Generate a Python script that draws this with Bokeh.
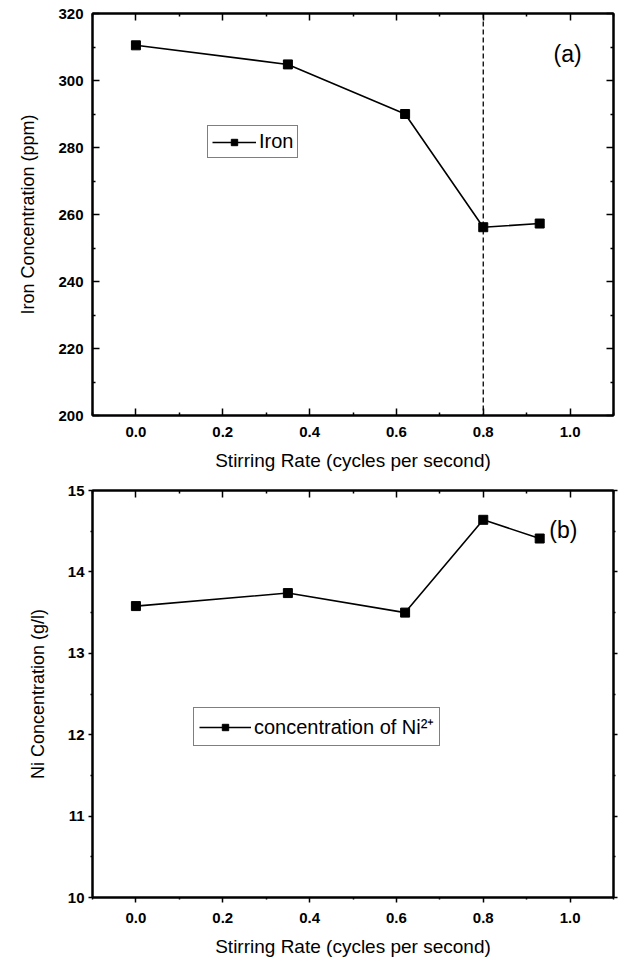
from bokeh.plotting import figure
from bokeh.layouts import column
from bokeh.models import (Range1d, LinearAxis, FixedTicker, Span, Label,
                          Legend, LegendItem, ColumnDataSource, CustomLabelingPolicy)
from bokeh.embed import file_html
from bokeh.resources import INLINE

# ---- data ----
stir_rate_a = [0.0, 0.35, 0.62, 0.80, 0.93]
iron_ppm = [310.5, 304.8, 290.0, 256.2, 257.3]

stir_rate_b = [0.0, 0.35, 0.62, 0.80, 0.93]
ni_gl = [13.58, 13.74, 13.50, 14.64, 14.41]

x_major = [0.0, 0.2, 0.4, 0.6, 0.8, 1.0]
x_minor = [-0.1, 0.1, 0.3, 0.5, 0.7, 0.9, 1.1]
ya_major = [200, 220, 240, 260, 280, 300, 320]
ya_minor = [210, 230, 250, 270, 290, 310]
yb_major = [10, 11, 12, 13, 14, 15]
yb_minor = [10.5, 11.5, 12.5, 13.5, 14.5]

FONT = "Liberation Sans"
XLABEL = "Stirring Rate (cycles per second)"

HIDE = "for (const i of Array.from(indices)) { indices.unset(i) }\nreturn indices"


def style_axis(ax, tick_in, tick_out, show_labels=True, title_size="18px"):
    ax.axis_line_color = "black"
    ax.axis_line_width = 2
    ax.major_tick_line_color = "black"
    ax.major_tick_line_width = 1.5
    ax.minor_tick_line_color = "black"
    ax.minor_tick_line_width = 1.5
    ax.major_tick_in = tick_in
    ax.major_tick_out = tick_out
    ax.minor_tick_in = tick_in // 2 if tick_in else 0
    ax.minor_tick_out = tick_out // 2 if tick_out else 0
    ax.major_label_text_font = FONT
    ax.major_label_text_font_style = "bold"
    ax.major_label_text_color = "black"
    ax.major_label_text_font_size = "15px"
    ax.axis_label_text_font = FONT
    ax.axis_label_text_font_style = "normal"
    ax.axis_label_text_font_size = title_size
    ax.axis_label_text_color = "black"
    if not show_labels:
        ax.major_label_policy = CustomLabelingPolicy(code=HIDE)
        ax.major_label_text_font_size = "1px"
        ax.major_label_standoff = 0


def make_fig(height, border_top, border_bottom, border_left, yr, ymaj, ymin):
    p = figure(width=621, height=height, output_backend="svg", toolbar_location=None,
               x_range=Range1d(-0.1, 1.1), y_range=yr,
               min_border_top=border_top, min_border_bottom=border_bottom,
               min_border_left=border_left, min_border_right=7)
    p.grid.visible = False
    p.outline_line_color = "black"
    p.outline_line_width = 2
    p.background_fill_color = "white"
    p.border_fill_color = "white"
    bottom = p.below[0]
    left = p.left[0]
    bottom.ticker = FixedTicker(ticks=x_major, minor_ticks=x_minor)
    left.ticker = FixedTicker(ticks=ymaj, minor_ticks=ymin)
    bottom.major_label_overrides = {v: f"{v:.1f}" for v in x_major}
    left.major_label_overrides = {v: f"{v:d}" for v in ymaj}
    top = LinearAxis(ticker=FixedTicker(ticks=x_major, minor_ticks=x_minor))
    right = LinearAxis(ticker=FixedTicker(ticks=ymaj, minor_ticks=ymin))
    p.add_layout(top, "above")
    p.add_layout(right, "right")
    return p, bottom, left, top, right


# ---------------- panel (a) ----------------
pa, bota, lefta, topa, righta = make_fig(478, 13, 63, 92, Range1d(200, 320),
                                         ya_major, ya_minor)
bota.axis_label = XLABEL
lefta.axis_label = "Iron Concentration (ppm)"
style_axis(bota, 7, 0, title_size="19px")
style_axis(lefta, 7, 0)
style_axis(topa, 7, 0, show_labels=False)
style_axis(righta, 7, 0, show_labels=False)
bota.major_label_standoff = 11
bota.axis_label_standoff = 10
lefta.major_label_standoff = 9
lefta.axis_label_standoff = 17

src_a = ColumnDataSource(dict(x=stir_rate_a, y=iron_ppm))
la = pa.line("x", "y", source=src_a, line_color="black", line_width=1.6)
sa = pa.scatter("x", "y", source=src_a, marker="square", size=9,
                fill_color="black", line_color="black")
pa.add_layout(Span(location=0.8, dimension="height", line_color="black",
                   line_width=1.3, line_dash="5 3"))
pa.add_layout(Label(x=0.962, y=308, text="(a)", text_font=FONT, text_font_size="23px",
                    text_baseline="middle", text_color="black"))
leg_a = Legend(items=[LegendItem(label="Iron", renderers=[la, sa])],
               location=(115, 257), orientation="vertical",
               border_line_color="black", border_line_width=1.3,
               padding=4, margin=0, glyph_width=44, glyph_height=16,
               label_standoff=3, label_text_font=FONT, label_text_font_size="20px",
               label_text_color="black", background_fill_alpha=1)
pa.add_layout(leg_a, "center")

# ---------------- panel (b) ----------------
pb, botb, leftb, topb, rightb = make_fig(483, 12, 64, 87, Range1d(10, 15),
                                         yb_major, yb_minor)
botb.axis_label = XLABEL
leftb.axis_label = "Ni Concentration (g/l)"
style_axis(botb, 0, 5, title_size="19px")
style_axis(leftb, 0, 4)
style_axis(topb, 7, 0, show_labels=False)
style_axis(rightb, 0, 4, show_labels=False)
botb.major_label_standoff = 10
botb.axis_label_standoff = 10
leftb.major_label_standoff = 4
leftb.axis_label_standoff = 17

src_b = ColumnDataSource(dict(x=stir_rate_b, y=ni_gl))
lb = pb.line("x", "y", source=src_b, line_color="black", line_width=1.6)
sb = pb.scatter("x", "y", source=src_b, marker="square", size=9,
                fill_color="black", line_color="black")
pb.add_layout(Label(x=0.952, y=14.51, text="(b)", text_font=FONT, text_font_size="23px",
                    text_baseline="middle", text_color="black"))
leg_b = Legend(items=[LegendItem(label="concentration of Ni²⁺", renderers=[lb, sb])],
               location=(101, 151), orientation="vertical",
               border_line_color="black", border_line_width=1.3,
               padding=5, margin=0, glyph_width=52, glyph_height=16,
               label_standoff=3, label_text_font=FONT, label_text_font_size="20px",
               label_text_color="black", background_fill_alpha=1)
pb.add_layout(leg_b, "center")

layout = column(pa, pb, spacing=0)
open("out.html", "w").write(file_html(layout, INLINE))
